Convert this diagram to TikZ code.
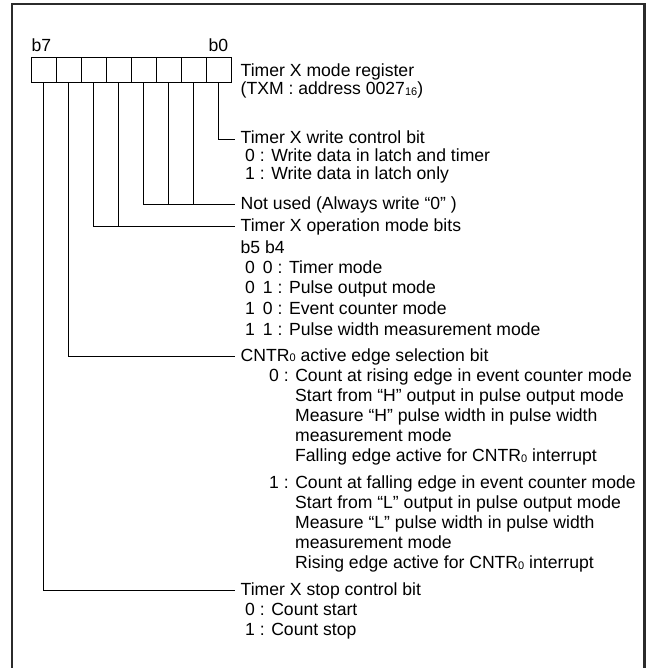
\documentclass[tikz,border=0pt]{standalone}
\usepackage{fontspec}
\setmainfont{Liberation Sans}
\usepackage{tikz}
\usetikzlibrary{calc}
\definecolor{ink}{HTML}{000000}
\definecolor{framec}{HTML}{2B2B2B}
\newcommand{\lowidx}[1]{\raisebox{-0.6pt}{\fontsize{11}{11}\selectfont#1}}
\tikzset{
  frame/.style={draw=framec, line width=2.4pt},
  cell/.style={draw=ink, line width=0.9pt, minimum width=25pt, minimum height=25pt, inner sep=0pt},
  lead/.style={draw=ink, line width=0.8pt},
  txt/.style={anchor=base west, inner sep=0pt, text=ink, font=\fontsize{17.6}{20}\selectfont},
}
\begin{document}
\begin{tikzpicture}[x=1pt,y=-1pt]
  \useasboundingbox (0,0) rectangle (647,668);
  \draw[frame] (11.7,668) |- (644.3,3.8) -- (644.3,668);
  % register cells, bit 0 on the right
  \foreach \b in {0,...,7}
    \node[cell] (c\b) at ({218.5-25*\b},69.8) {};
  \node[txt] (b7) at (31.3,52) {b7};
  \node[txt] (b0) at (208.5,52) {b0};
  \node[txt] (reg)  at (240.5,77) {Timer X mode register};
  \node[txt] (addr) at (240.5,95) {(TXM : address 0027\lowidx{16})};
  % bit 0
  \node[txt] (wr)  at (240.5,144) {Timer X write control bit};
  \node[txt] (wr0) at (245,162) {0 : Write data in latch and timer};
  \node[txt] (wr1) at (245,180) {1 : Write data in latch only};
  % bits 1-3
  \node[txt] (nu) at (240.5,209) {Not used (Always write “0” )};
  % bits 4-5
  \node[txt] (op)  at (240.5,231) {Timer X operation mode bits};
  \node[txt] (opb) at (240.5,253) {b5 b4};
  \node[txt] (op00) at (245,273) {0\hspace{8pt}0 : Timer mode};
  \node[txt] (op01) at (245,293) {0\hspace{8pt}1 : Pulse output mode};
  \node[txt] (op10) at (245,314) {1\hspace{8pt}0 : Event counter mode};
  \node[txt] (op11) at (245,335) {1\hspace{8pt}1 : Pulse width measurement mode};
  % bit 6
  \node[txt] (ed)  at (240.5,361) {CNTR\lowidx{0} active edge selection bit};
  \node[txt] (ed0) at (269,381) {0 : Count at rising edge in event counter mode};
  \foreach \t [count=\i] in {Start from “H” output in pulse output mode,
      Measure “H” pulse width in pulse width, measurement mode,
      Falling edge active for CNTR\lowidx{0} interrupt}
    \node[txt] (ed0-\i) at (295,381+20.2*\i) {\t};
  \node[txt] (ed1) at (269,488) {1 : Count at falling edge in event counter mode};
  \foreach \t [count=\i] in {Start from “L” output in pulse output mode,
      Measure “L” pulse width in pulse width, measurement mode,
      Rising edge active for CNTR\lowidx{0} interrupt}
    \node[txt] (ed1-\i) at (295,488+20.2*\i) {\t};
  % bit 7
  \node[txt] (st)  at (240.5,595) {Timer X stop control bit};
  \node[txt] (st0) at (245,615) {0 : Count start};
  \node[txt] (st1) at (245,635) {1 : Count stop};
  % leads
  \draw[lead] (c0.south) |- ($(wr.base west)+(-5.5,-5)$);
  \foreach \b in {1,2,3}
    \draw[lead] (c\b.south) |- ($(nu.base west)+(-5.5,-5)$);
  \foreach \b in {4,5}
    \draw[lead] (c\b.south) |- ($(op.base west)+(-5.5,-5)$);
  \draw[lead] (c6.south) |- ($(ed.base west)+(-5.5,-5)$);
  \draw[lead] (c7.south) |- ($(st.base west)+(-5.5,-5)$);
\end{tikzpicture}
\end{document}
